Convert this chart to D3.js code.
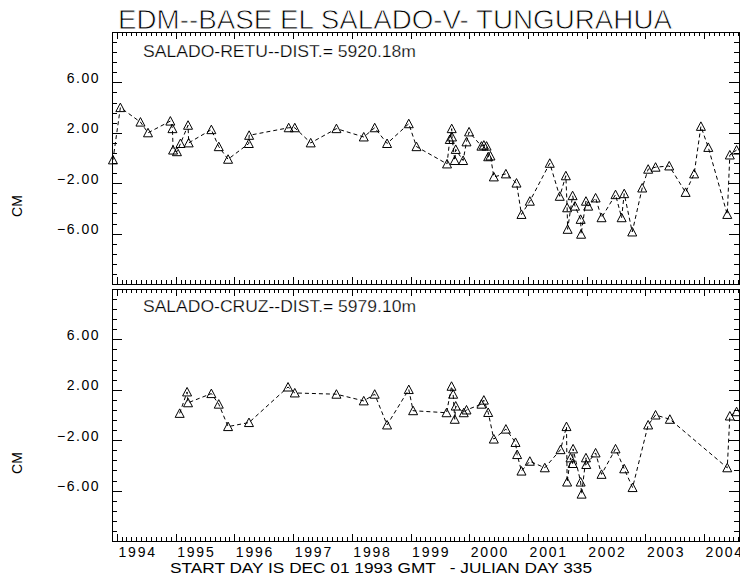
<!DOCTYPE html>
<html>
<head>
  <meta charset="UTF-8">
  <style>
    body {
      margin: 0;
      padding: 0;
      background-color: #fff;
    }
    svg {
      display: block;
    }
    text {
      font-family: "Liberation Sans", Arial, sans-serif;
      fill: #000;
    }
  </style>
</head>
<body>
<svg></svg>
<script src="https://d3js.org/d3.v7.min.js"></script>

<script>
  let width = 740, height = 579;

  // days counted from the start day, DEC 01 1993
  let retuDay = [6, 52, 177, 224, 363, 376, 380, 404, 426, 473, 477, 618, 664, 722, 851, 853,
    1099, 1137, 1236, 1396, 1566, 1634, 1711, 1846, 1894, 2084, 2101, 2113, 2115, 2132, 2138,
    2184, 2205, 2221, 2298, 2313, 2330, 2340, 2354, 2375, 2450, 2516, 2547, 2599, 2723, 2785,
    2823, 2831, 2834, 2865, 2880, 2915, 2918, 2948, 2962, 3008, 3045, 3132, 3170, 3186, 3236,
    3298, 3335, 3381, 3466, 3568, 3621, 3663, 3709, 3827, 3843, 3885];
  let retuCm = [-0.15, 4.0, 2.85, 2.0, 2.93, 2.33, 0.63, 0.5, 1.15, 2.6, 1.2, 2.25, 0.9, -0.1, 1.15, 1.8,
    2.4, 2.4, 1.2, 2.33, 1.67, 2.4, 1.15, 2.72, 0.9, -0.47, 1.47, 2.33, 1.67, -0.2, 0.68,
    -0.2, 1.28, 2.07, 0.94, 1.02, 0.94, 0.1, 0.16, -1.5, -1.26, -1.99, -4.48, -3.43, -0.42, -3.04,
    -1.41, -3.95, -5.66, -2.99, -3.82, -4.87, -6.05, -3.43, -3.82, -3.17, -4.74, -2.91, -4.74, -2.83, -5.87,
    -2.38, -0.89, -0.73, -0.63, -2.73, -1.26, 2.51, 0.84, -4.48, 0.24, 0.63];

  let cruzDay = [421, 467, 473, 618, 664, 722, 852, 1095, 1137, 1396, 1566, 1634, 1711, 1846, 1873,
    2081, 2112, 2122, 2132, 2138, 2188, 2205, 2298, 2313, 2340, 2375, 2450, 2510, 2520, 2547, 2599,
    2692, 2790, 2827, 2831, 2852, 2865, 2868, 2915, 2921, 2948, 2950, 3008, 3045, 3132, 3186, 3238,
    3335, 3381, 3470, 3827, 3843, 3885];
  let cruzCm = [0.13, 1.83, 0.97, 1.7, 0.86, -0.92, -0.6, 2.22, 1.75, 1.65, 1.12, 1.65, -0.79, 2.02, 0.34,
    0.18, 2.28, 1.65, -0.34, 0.71, 0.18, 0.4, 0.86, 1.18, 0.2, -1.91, -1.12, -2.18, -3.14, -4.45, -3.67,
    -4.19, -2.75, -0.92, -5.32, -3.4, -3.85, -2.69, -5.32, -6.28, -3.4, -3.93, -3.01, -4.71, -2.69, -4.27, -5.76,
    -0.79, 0.0, -0.34, -4.19, -0.08, 0.26];

  let yTicks = [6, 2, -2, -6];
  let years = [1994, 1995, 1996, 1997, 1998, 1999, 2000, 2001, 2002, 2003, 2004];

  let startDay = Date.UTC(1993, 11, 1);
  let toDate = d => new Date(startDay + d * 864e5);

  let svg = d3.select("svg")
      .attr("width", width)
      .attr("height", height);

  let x = d3.scaleUtc()
      .domain([toDate(0), toDate(3900)])
      .range([112, 739]);

  let yMinor = d3.range(-9.2, 9.3, 0.8).filter(v => !yTicks.some(t => Math.abs(t - v) < 0.01));

  let panels = [
    { top: 32, bottom: 284, days: retuDay, cm: retuCm, label: "SALADO-RETU--DIST.= 5920.18m", labelY: 56.5, cmY: 206, last: false },
    { top: 289, bottom: 541, days: cruzDay, cm: cruzCm, label: "SALADO-CRUZ--DIST.= 5979.10m", labelY: 311.5, cmY: 463, last: true }
  ];

  function clean(g) {
    g.select(".domain").remove();
    g.attr("font-family", null).attr("font-size", null);
    g.selectAll("line").attr("stroke", "#000").attr("shape-rendering", "crispEdges");
  }

  // thin the glyphs a little, the original uses a stroked vector font
  function thin(t, w) {
    t.attr("stroke", "#fff").attr("stroke-width", w).attr("paint-order", "fill stroke");
  }

  panels.forEach(p => {
    let y = d3.scaleLinear().domain([-10, 10]).range([p.bottom, p.top]);
    let g = svg.append("g");

    // frame
    g.append("rect")
        .attr("x", 112).attr("y", p.top)
        .attr("width", 739 - 112).attr("height", p.bottom - p.top)
        .attr("fill", "none").attr("stroke", "#000")
        .attr("shape-rendering", "crispEdges");

    // y axes
    g.append("g").attr("transform", "translate(112,0)")
        .call(d3.axisLeft(y).tickValues(yTicks).tickSize(-10).tickPadding(12).tickFormat(d3.format(".2f")))
        .call(clean)
        .selectAll("text").attr("dy", 0).attr("font-size", "14px").attr("letter-spacing", "1.5px");
    g.append("g").attr("transform", "translate(112,0)")
        .call(d3.axisLeft(y).tickValues(yMinor).tickSize(-5).tickFormat(""))
        .call(clean);
    g.append("g").attr("transform", "translate(739,0)")
        .call(d3.axisRight(y).tickValues(yTicks).tickSize(-10).tickFormat(""))
        .call(clean);
    g.append("g").attr("transform", "translate(739,0)")
        .call(d3.axisRight(y).tickValues(yMinor).tickSize(-5).tickFormat(""))
        .call(clean);

    // x axes, top and bottom
    g.append("g").attr("transform", `translate(0,${p.top})`)
        .call(d3.axisTop(x).ticks(d3.utcYear).tickSize(-7).tickFormat(""))
        .call(clean);
    g.append("g").attr("transform", `translate(0,${p.top})`)
        .call(d3.axisTop(x).ticks(d3.utcMonth).tickSize(-4).tickFormat(""))
        .call(clean);
    g.append("g").attr("transform", `translate(0,${p.bottom})`)
        .call(d3.axisBottom(x).ticks(d3.utcYear).tickSize(-7).tickFormat(""))
        .call(clean);
    g.append("g").attr("transform", `translate(0,${p.bottom})`)
        .call(d3.axisBottom(x).ticks(d3.utcMonth).tickSize(-4).tickFormat(""))
        .call(clean);

    // y title
    g.append("text")
        .attr("transform", `translate(22,${p.cmY}) rotate(-90)`)
        .attr("text-anchor", "middle")
        .attr("font-size", "14px")
        .text("CM");

    // panel label
    g.append("text")
        .attr("x", 143).attr("y", p.labelY)
        .attr("font-size", "16px")
        .attr("textLength", 273)
        .attr("lengthAdjust", "spacingAndGlyphs")
        .text(p.label)
        .call(thin, 0.25);

    let pts = p.days.map((d, i) => ({ date: toDate(d), v: p.cm[i] }));

    let line = d3.line().x(d => x(d.date)).y(d => y(d.v));

    g.append("path")
        .datum(pts)
        .attr("d", line)
        .attr("fill", "none")
        .attr("stroke", "#000")
        .attr("stroke-width", 1)
        .attr("stroke-dasharray", "4,3");

    g.selectAll(".tri")
        .data(pts)
        .enter()
        .append("path")
        .attr("class", "tri")
        .attr("transform", d => `translate(${x(d.date)},${y(d.v)})`)
        .attr("d", "M-4.5,4L0,-4.5L4.5,4Z")
        .attr("fill", "none")
        .attr("stroke", "#000")
        .attr("stroke-width", 1);

    if (p.last) {
      g.selectAll(".year")
          .data(years)
          .enter()
          .append("text")
          .attr("class", "year")
          .attr("x", d => x(new Date(Date.UTC(d, 0, 1))) + 1.5)
          .attr("y", 556.5)
          .attr("font-size", "14px")
          .attr("letter-spacing", "1.8px")
          .text(d => d);
    }
  });

  // title
  svg.append("text")
      .attr("x", 118)
      .attr("y", 29.3)
      .attr("font-size", "28px")
      .attr("textLength", 554)
      .attr("lengthAdjust", "spacingAndGlyphs")
      .text("EDM--BASE EL SALADO-V- TUNGURAHUA")
      .call(thin, 0.8);

  // start day note
  svg.append("text")
      .attr("x", 170)
      .attr("y", 573)
      .attr("font-size", "14px")
      .attr("textLength", 422)
      .attr("lengthAdjust", "spacingAndGlyphs")
      .attr("xml:space", "preserve")
      .style("white-space", "pre")
      .text("START DAY IS DEC 01 1993 GMT   - JULIAN DAY 335");
</script>
</body>
</html>
